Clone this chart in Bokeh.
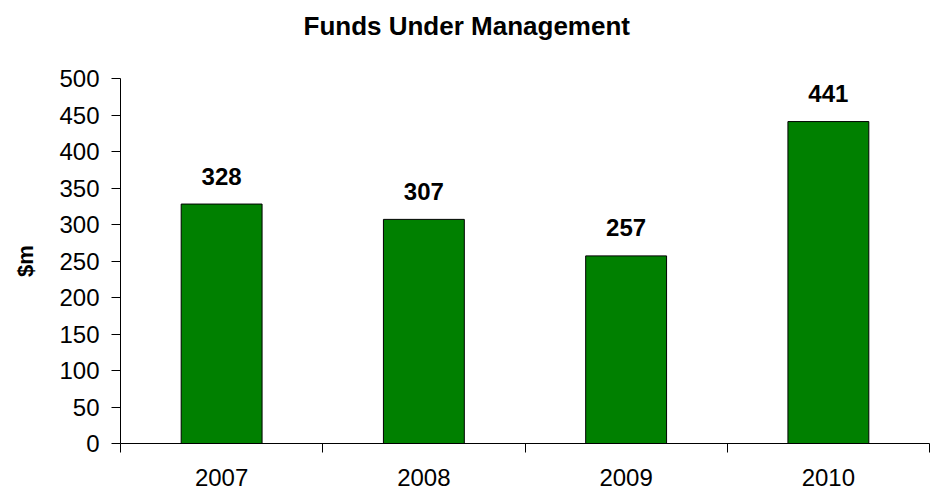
from bokeh.plotting import figure
from bokeh.models import Range1d, FixedTicker, Title
from bokeh.core.properties import value
from bokeh.embed import file_html
from bokeh.resources import INLINE

years = ["2007", "2008", "2009", "2010"]
funds = [328, 307, 257, 441]
y_ticks = [0, 50, 100, 150, 200, 250, 300, 350, 400, 450, 500]
title_text = "Funds Under Management"
y_label = "$m"

xs = [i + 1 for i in range(len(years))]
bounds = [i + 0.5 for i in range(len(years) + 1)]

FONT = "Liberation Sans"

p = figure(width=931, height=491, output_backend="svg", toolbar_location=None,
           title=None,
           x_range=Range1d(bounds[0], bounds[-1]), y_range=Range1d(0, 500),
           min_border_left=120, min_border_right=2, min_border_top=78,
           min_border_bottom=48)

# spacer between title and frame (nearest the frame)
p.add_layout(Title(text=" ", text_font_size="1px", standoff=25), "above")
# main title (outermost)
p.add_layout(Title(text=title_text, text_font=FONT, text_font_size="26px",
                   text_font_style="bold", text_color="black",
                   align="left", offset=183, vertical_align="top",
                   standoff=16), "above")

p.vbar(x=xs, top=funds, width=0.4, bottom=0,
       fill_color="#008000", line_color="black", line_width=1)

p.text(x=xs, y=funds, text=[str(v) for v in funds],
       text_font=value(FONT), text_font_size="24px", text_font_style="bold",
       text_align="center", text_baseline="alphabetic", y_offset=-28,
       text_color="black")

p.xgrid.visible = False
p.ygrid.visible = False
p.outline_line_color = None

xa = p.xaxis[0]
xa.ticker = FixedTicker(ticks=xs, minor_ticks=bounds)
xa.major_label_overrides = {x: y for x, y in zip(xs, years)}
xa.major_tick_out = 0
xa.major_tick_in = 0
xa.minor_tick_out = 9
xa.minor_tick_in = 0
xa.minor_tick_line_color = "black"
xa.axis_line_color = "black"
xa.major_label_text_font = FONT
xa.major_label_text_font_size = "24px"
xa.major_label_text_color = "black"
xa.major_label_standoff = 16

ya = p.yaxis[0]
ya.ticker = FixedTicker(ticks=y_ticks)
ya.major_tick_out = 9
ya.major_tick_in = 0
ya.minor_tick_line_color = None
ya.axis_line_color = "black"
ya.major_tick_line_color = "black"
ya.major_label_text_font = FONT
ya.major_label_text_font_size = "24px"
ya.major_label_text_color = "black"
ya.major_label_standoff = 12
ya.axis_label = y_label
ya.axis_label_text_font = FONT
ya.axis_label_text_font_size = "22px"
ya.axis_label_text_font_style = "bold"
ya.axis_label_text_color = "black"
ya.axis_label_standoff = 18

open("out.html", "w").write(file_html(p, INLINE))
